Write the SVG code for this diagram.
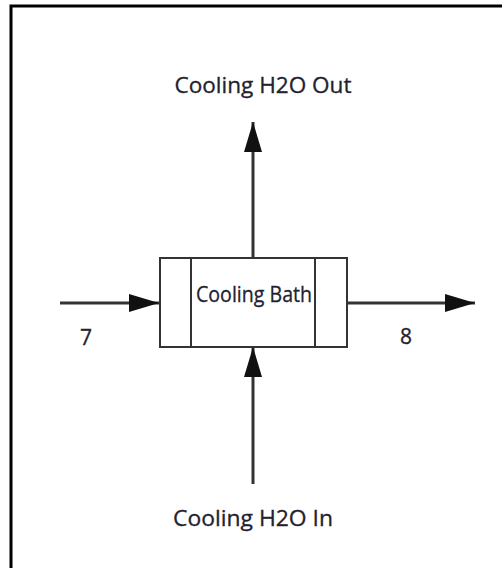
<svg xmlns="http://www.w3.org/2000/svg" width="502" height="568" viewBox="0 0 502 568">
<defs>
<style>
.lbl{font-family:"Open Sans","Liberation Sans",sans-serif;fill:#22222e;stroke:#22222e;stroke-width:0.3;}
.con{stroke:#333;stroke-width:3;fill:none;}
.box{stroke:#333;stroke-width:2;fill:#fff;}
</style>
<marker id="ah" viewBox="0 0 30 18" refX="30" refY="9" markerWidth="30" markerHeight="18" markerUnits="userSpaceOnUse" orient="auto">
<path d="M0,0 L30,9 L0,18 Z" fill="#111"/>
</marker>
</defs>
<rect width="502" height="568" fill="#fff"/>
<path d="M11,568 V6 H502" stroke="#000" stroke-width="3" fill="none"/>
<g id="connectors">
<line class="con" x1="60" y1="303" x2="159" y2="303" marker-end="url(#ah)"/>
<line class="con" x1="347" y1="303" x2="475" y2="303" marker-end="url(#ah)"/>
<line class="con" x1="253" y1="258" x2="253" y2="122" marker-end="url(#ah)"/>
<line class="con" x1="253" y1="484" x2="253" y2="347" marker-end="url(#ah)"/>
</g>
<g id="cooling-bath">
<rect class="box" x="160" y="258" width="187" height="89"/>
<line class="box" x1="191" y1="258" x2="191" y2="347"/>
<line class="box" x1="315" y1="258" x2="315" y2="347"/>
<text class="lbl" x="254" y="302" font-size="22" text-anchor="middle" textLength="116" lengthAdjust="spacingAndGlyphs">Cooling Bath</text>
</g>
<g id="label-out">
<text class="lbl" x="263" y="93" font-size="22" text-anchor="middle" textLength="177" lengthAdjust="spacingAndGlyphs">Cooling H2O Out</text>
</g>
<g id="label-in">
<text class="lbl" x="253" y="526" font-size="22" text-anchor="middle" textLength="160" lengthAdjust="spacingAndGlyphs">Cooling H2O In</text>
</g>
<g id="label-7">
<text class="lbl" x="86" y="345" font-size="21" text-anchor="middle">7</text>
</g>
<g id="label-8">
<text class="lbl" x="406" y="344" font-size="21" text-anchor="middle">8</text>
</g>
</svg>
